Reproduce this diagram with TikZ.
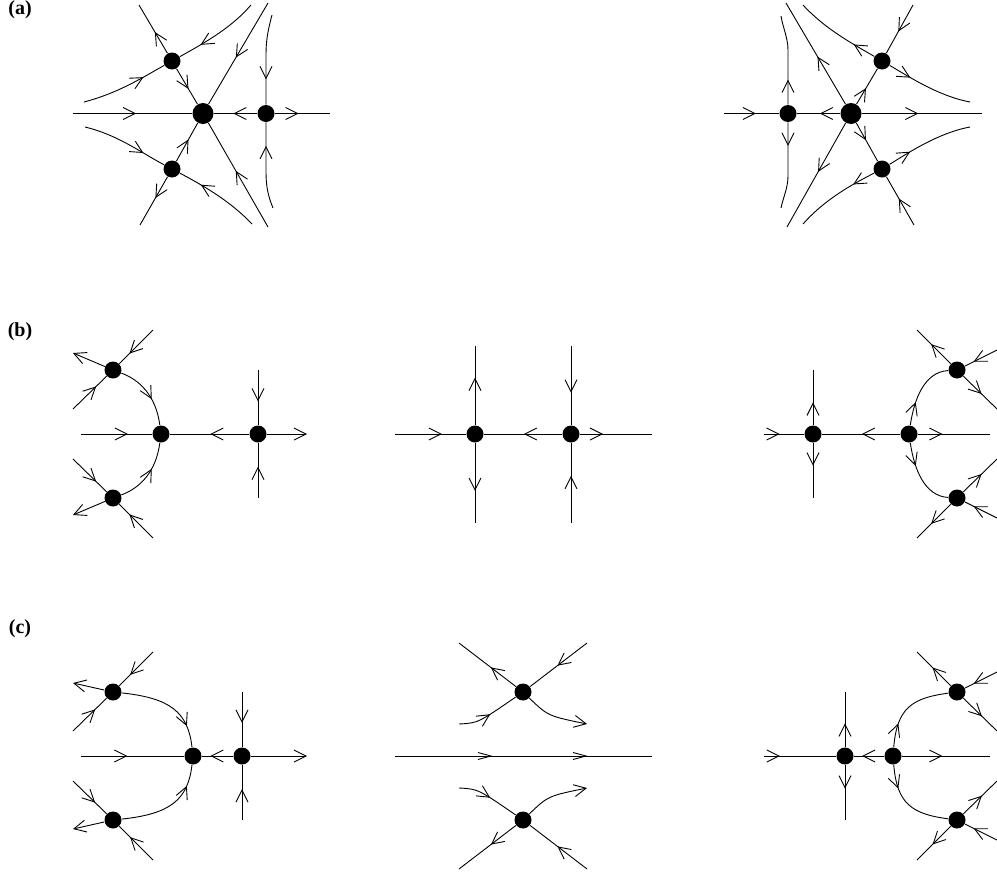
\documentclass[tikz,border=0pt]{standalone}
\usepackage{fontspec}
\setmainfont{Liberation Serif}
\usetikzlibrary{arrows.meta,decorations.markings}

\tikzset{
  fixpt/.style={circle,fill=black,inner sep=0pt,minimum size=17pt},
  bigfixpt/.style={fixpt,minimum size=21pt},
  flow/.style={postaction={decorate,decoration={markings,
      mark=at position #1 with {\arrow{>}}}}},
  thinflow/.style={postaction={decorate,decoration={markings,
      mark=at position #1 with {\arrow{Straight Barb[length=13pt,width=7pt]}}}}},
  panellabel/.style={font=\bfseries\fontsize{20}{22}\selectfont,inner sep=0pt},
}

\begin{document}
\begin{tikzpicture}[x=1pt,y=-1pt,line width=0.9pt,
  >={Straight Barb[length=12pt,width=12pt]}]
\useasboundingbox (0,0) rectangle (997,873);

% panel labels
\node[panellabel] (la) at (20,10) {(a)};
\node[panellabel] (lb) at (20,332) {(b)};
\node[panellabel] (lc) at (20,629) {(c)};

% (a) left
\node[bigfixpt] (aLc) at (203,113.5) {};
\node[fixpt] (aLr) at (266,113.5) {};
\node[fixpt] (aLu) at (172,61) {};
\node[fixpt] (aLd) at (172,169) {};
\coordinate (aLw) at (73,113.5);
\coordinate (aLe) at (330,113.5);
\coordinate (aLne) at (268,3);
\coordinate (aLse) at (268,227);
\coordinate (aLnw) at (139,5);
\coordinate (aLsw) at (140,225);
\coordinate (aLvt) at (272,15);
\coordinate (aLvb) at (273,208);
\coordinate (aLuw) at (84,102);
\coordinate (aLue) at (251,5);
\coordinate (aLdw) at (85,127);
\coordinate (aLde) at (252,224);
\draw[flow=0.53] (aLw) -- (aLc);
\draw[flow=0.55] (aLr) -- (aLc);
\draw[flow=0.43] (aLr) -- (aLe);
\draw[flow=0.72] (aLvt) .. controls (268,30) and (266,40) .. (266,55) -- (aLr);
\draw[flow=0.73] (aLvb) .. controls (268,196) and (266,186) .. (266,172) -- (aLr);
\draw[flow=0.54] (aLne) -- (aLc);
\draw[flow=0.54] (aLse) -- (aLc);
\draw[flow=0.57] (aLu) -- (aLc);
\draw[flow=0.44] (aLu) -- (aLnw);
\draw[flow=0.57] (aLd) -- (aLc);
\draw[flow=0.44] (aLd) -- (aLsw);
\draw[flow=0.73] (aLuw) .. controls (118,93) and (140,79) .. (aLu);
\draw[flow=0.73] (aLue) .. controls (232,27) and (208,41) .. (aLu);
\draw[flow=0.73] (aLdw) .. controls (118,135) and (140,152) .. (aLd);
\draw[flow=0.73] (aLde) .. controls (232,203) and (208,188) .. (aLd);

% (a) right
\node[bigfixpt] (aRc) at (851,113.5) {};
\node[fixpt] (aRl) at (788,113.5) {};
\node[fixpt] (aRu) at (882,61) {};
\node[fixpt] (aRd) at (882,169) {};
\coordinate (aRw) at (724,113.5);
\coordinate (aRe) at (982,113.5);
\coordinate (aRnw) at (786,3);
\coordinate (aRsw) at (787,227);
\coordinate (aRne) at (913,5);
\coordinate (aRse) at (914,225);
\coordinate (aRvt) at (781,16);
\coordinate (aRvb) at (781,208);
\coordinate (aRuw) at (803,5);
\coordinate (aRue) at (970,102);
\coordinate (aRdw) at (803,224);
\coordinate (aRde) at (970,127);
\draw[flow=0.58] (aRw) -- (aRl);
\draw[flow=0.47] (aRc) -- (aRl);
\draw[flow=0.47] (aRc) -- (aRe);
\draw[flow=0.28] (aRl) -- (788,50) .. controls (788,38) and (783,28) .. (aRvt);
\draw[flow=0.27] (aRl) -- (788,176) .. controls (788,188) and (783,198) .. (aRvb);
\draw[flow=0.47] (aRc) -- (aRnw);
\draw[flow=0.47] (aRc) -- (aRsw);
\draw[flow=0.45] (aRc) -- (aRu);
\draw[flow=0.55] (aRne) -- (aRu);
\draw[flow=0.45] (aRc) -- (aRd);
\draw[flow=0.55] (aRse) -- (aRd);
\draw[flow=0.27] (aRu) .. controls (855,45) and (826,30) .. (aRuw);
\draw[flow=0.27] (aRu) .. controls (908,76) and (938,96) .. (aRue);
\draw[flow=0.27] (aRd) .. controls (855,183) and (826,198) .. (aRdw);
\draw[flow=0.27] (aRd) .. controls (908,153) and (938,133) .. (aRde);

% (b) left
\node[fixpt] (bLc) at (161,434) {};
\node[fixpt] (bLr) at (258,434) {};
\node[fixpt] (bLu) at (113,370) {};
\node[fixpt] (bLd) at (113,498) {};
\coordinate (bLw) at (81,434);
\coordinate (bLe) at (307,434);
\coordinate (bLvt) at (258,370);
\coordinate (bLvb) at (258,498);
\coordinate (bLune) at (153,330);
\coordinate (bLusw) at (73,409);
\coordinate (bLuw) at (73,353);
\coordinate (bLdse) at (153,538);
\coordinate (bLdnw) at (73,459);
\coordinate (bLdw) at (73,515);
\draw[flow=0.66] (bLw) -- (bLc);
\draw[flow=0.49] (bLr) -- (bLc);
\draw[->] (bLr) -- (bLe);
\draw[flow=0.57] (bLvt) -- (bLr);
\draw[flow=0.57] (bLvb) -- (bLr);
\draw[flow=0.7] (bLune) -- (bLu);
\draw[flow=0.69] (bLusw) -- (bLu);
\draw[->] (bLu) -- (bLuw);
\draw[flow=0.6] (bLu) .. controls (140,380) and (156,396) .. (bLc);
\draw[flow=0.7] (bLdse) -- (bLd);
\draw[flow=0.69] (bLdnw) -- (bLd);
\draw[->] (bLd) -- (bLdw);
\draw[flow=0.6] (bLd) .. controls (140,488) and (156,472) .. (bLc);

% (b) middle
\node[fixpt] (bMl) at (475,434) {};
\node[fixpt] (bMr) at (571,434) {};
\coordinate (bMw) at (395,434);
\coordinate (bMe) at (652,434);
\coordinate (bMlt) at (475,346);
\coordinate (bMlb) at (475,523);
\coordinate (bMrt) at (571,346);
\coordinate (bMrb) at (571,523);
\draw[flow=0.66] (bMw) -- (bMl);
\draw[flow=0.49] (bMr) -- (bMl);
\draw[flow=0.32] (bMr) -- (bMe);
\draw[flow=0.6] (bMl) -- (bMlt);
\draw[flow=0.6] (bMl) -- (bMlb);
\draw[flow=0.59] (bMrt) -- (bMr);
\draw[flow=0.59] (bMrb) -- (bMr);

% (b) right
\node[fixpt] (bRl) at (813,434) {};
\node[fixpt] (bRc) at (909,434) {};
\node[fixpt] (bRu) at (957,370) {};
\node[fixpt] (bRd) at (957,498) {};
\coordinate (bRw) at (764,434);
\coordinate (bRe) at (990,434);
\coordinate (bRlt) at (813,370);
\coordinate (bRlb) at (813,498);
\coordinate (bRunw) at (917,330);
\coordinate (bRune) at (997,350);
\coordinate (bRuse) at (997,409);
\coordinate (bRdsw) at (917,538);
\coordinate (bRdse) at (997,518);
\coordinate (bRdne) at (997,459);
\draw[flow=0.39] (bRw) -- (bRl);
\draw[flow=0.49] (bRc) -- (bRl);
\draw[flow=0.34] (bRc) -- (bRe);
\draw[flow=0.41] (bRl) -- (bRlt);
\draw[flow=0.41] (bRl) -- (bRlb);
\draw[flow=0.33] (bRc) .. controls (914,400) and (924,372) .. (bRu);
\draw[flow=0.33] (bRc) .. controls (914,468) and (924,496) .. (bRd);
\draw[flow=0.58] (bRu) -- (bRunw);
\draw[flow=0.73] (bRune) -- (bRu);
\draw[flow=0.54] (bRu) -- (bRuse);
\draw[flow=0.58] (bRd) -- (bRdsw);
\draw[flow=0.73] (bRdse) -- (bRd);
\draw[flow=0.54] (bRd) -- (bRdne);

% (c) left
\node[fixpt] (cLc) at (193,756) {};
\node[fixpt] (cLr) at (242,756) {};
\node[fixpt] (cLu) at (113,692) {};
\node[fixpt] (cLd) at (113,820) {};
\coordinate (cLw) at (81,756);
\coordinate (cLe) at (307,756);
\coordinate (cLvt) at (242,692);
\coordinate (cLvb) at (242,820);
\coordinate (cLune) at (153,652);
\coordinate (cLusw) at (73,731);
\coordinate (cLuw) at (73,683);
\coordinate (cLdse) at (153,860);
\coordinate (cLdnw) at (73,781);
\coordinate (cLdw) at (73,829);
\draw[flow=0.45] (cLw) -- (cLc);
\draw[flow=0.73] (cLr) -- (cLc);
\draw[->] (cLr) -- (cLe);
\draw[flow=0.56] (cLvt) -- (cLr);
\draw[flow=0.56] (cLvb) -- (cLr);
\draw[flow=0.68] (cLune) -- (cLu);
\draw[flow=0.66] (cLusw) -- (cLu);
\draw[->] (cLu) -- (cLuw);
\draw[flow=0.78] (cLu) .. controls (170,698) and (188,712) .. (cLc);
\draw[flow=0.68] (cLdse) -- (cLd);
\draw[flow=0.66] (cLdnw) -- (cLd);
\draw[->] (cLd) -- (cLdw);
\draw[flow=0.78] (cLd) .. controls (170,814) and (188,800) .. (cLc);

% (c) middle
\node[fixpt] (cMu) at (523,692) {};
\node[fixpt] (cMd) at (523,820) {};
\coordinate (cMw) at (395,756);
\coordinate (cMe) at (652,756);
\coordinate (cMunw) at (459,643);
\coordinate (cMune) at (587,643);
\coordinate (cMusw) at (459,724);
\coordinate (cMuse) at (587,724);
\coordinate (cMdsw) at (459,869);
\coordinate (cMdse) at (587,869);
\coordinate (cMdnw) at (459,788);
\coordinate (cMdne) at (587,788);
\draw[thinflow=0.38,thinflow=0.75] (cMw) -- (cMe);
\draw[flow=0.44] (cMu) -- (cMunw);
\draw[flow=0.52] (cMune) -- (cMu);
\draw[flow=0.52] (cMusw) .. controls (478,723) .. (cMu);
\draw[->] (cMu) .. controls (548,716) .. (cMuse);
\draw[flow=0.44] (cMd) -- (cMdsw);
\draw[flow=0.52] (cMdse) -- (cMd);
\draw[flow=0.52] (cMdnw) .. controls (478,789) .. (cMd);
\draw[->] (cMd) .. controls (548,796) .. (cMdne);

% (c) right
\node[fixpt] (cRl) at (845,756) {};
\node[fixpt] (cRc) at (893,756) {};
\node[fixpt] (cRu) at (957,692) {};
\node[fixpt] (cRd) at (957,820) {};
\coordinate (cRw) at (764,756);
\coordinate (cRe) at (990,756);
\coordinate (cRlt) at (845,692);
\coordinate (cRlb) at (845,820);
\coordinate (cRunw) at (917,652);
\coordinate (cRune) at (997,672);
\coordinate (cRuse) at (997,731);
\coordinate (cRdsw) at (917,860);
\coordinate (cRdse) at (997,840);
\coordinate (cRdne) at (997,781);
\draw[flow=0.22] (cRw) -- (cRl);
\draw[flow=0.73] (cRc) -- (cRl);
\draw[flow=0.46] (cRc) -- (cRe);
\draw[flow=0.43] (cRl) -- (cRlt);
\draw[flow=0.43] (cRl) -- (cRlb);
\draw[flow=0.28] (cRc) .. controls (897,708) and (912,698) .. (cRu);
\draw[flow=0.28] (cRc) .. controls (897,804) and (912,814) .. (cRd);
\draw[flow=0.54] (cRu) -- (cRunw);
\draw[flow=0.73] (cRune) -- (cRu);
\draw[flow=0.55] (cRu) -- (cRuse);
\draw[flow=0.54] (cRd) -- (cRdsw);
\draw[flow=0.73] (cRdse) -- (cRd);
\draw[flow=0.55] (cRd) -- (cRdne);
\end{tikzpicture}
\end{document}
